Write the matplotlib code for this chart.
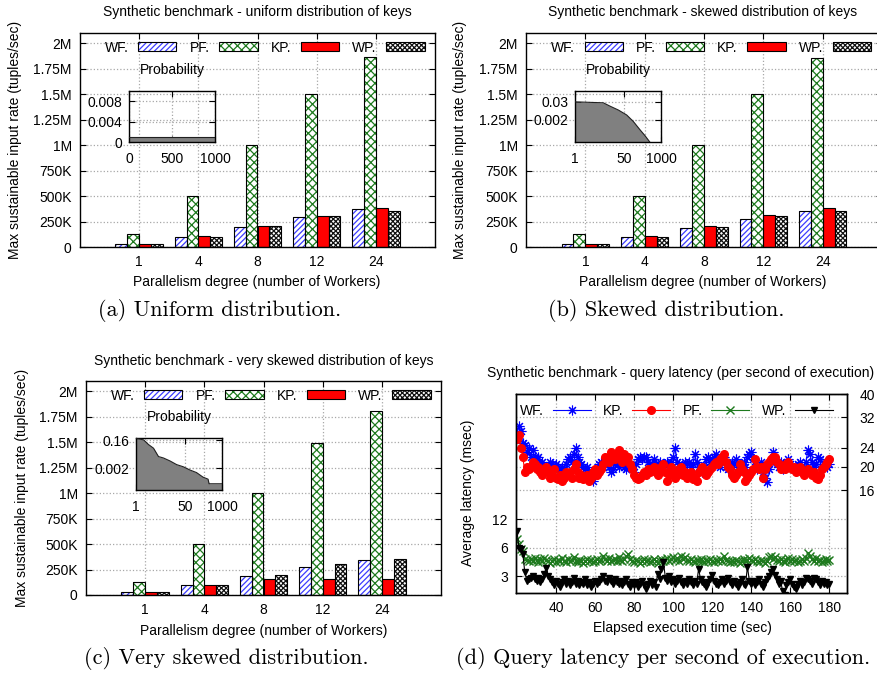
import numpy as np
import matplotlib
matplotlib.use("Agg")
import matplotlib.pyplot as plt
from matplotlib.ticker import NullLocator
from matplotlib.legend_handler import HandlerTuple

plt.rcParams['font.family'] = ['Liberation Sans', 'DejaVu Sans']
plt.rcParams['hatch.linewidth'] = 0.9

W, H = 877, 675

# ---- bar data (tuples/sec), groups = parallelism degree
groups = ['1', '4', '8', '12', '24']

uni_wf = [33e3, 100e3, 200e3, 295e3, 370e3]
uni_pf = [130e3, 500e3, 1.0e6, 1.5e6, 1.862e6]
uni_kp = [25e3, 105e3, 210e3, 309e3, 387e3]
uni_wp = [28e3, 100e3, 205e3, 302e3, 354e3]

skew_wf = [30e3, 100e3, 187e3, 279e3, 354e3]
skew_pf = [130e3, 500e3, 1.0e6, 1.5e6, 1.852e6]
skew_kp = [25e3, 105e3, 207e3, 310e3, 387e3]
skew_wp = [27e3, 100e3, 200e3, 300e3, 355e3]

vskew_wf = [26e3, 95e3, 183e3, 271e3, 342e3]
vskew_pf = [127e3, 502e3, 1.005e6, 1.494e6, 1.807e6]
vskew_kp = [26e3, 100e3, 160e3, 160e3, 160e3]
vskew_wp = [25e3, 98e3, 200e3, 300e3, 352e3]

ytick_vals = [0, 250e3, 500e3, 750e3, 1e6, 1.25e6, 1.5e6, 1.75e6, 2e6]
ytick_text = ['0', '250K', '500K', '750K', '1M', '1.25M', '1.5M', '1.75M', '2M']

# ---- key probability (insets)
uni_keys = [0, 1000]
uni_prob = [0.001, 0.001]

skew_keys = [1, 9.7, 16.6, 32.6, 63.6, 108, 185, 277, 415]
skew_prob = [0.03, 0.026, 0.0158, 0.0088, 0.0042, 0.0016, 0.00046, 0.00019, 0.00007]

vskew_keys = [1, 1.84, 2.74, 4.08, 6.08, 9.06, 15.4, 26.2, 44.6, 75.9, 129, 219, 326, 354, 1000]
vskew_prob = [0.212, 0.169, 0.0807, 0.0458, 0.0124, 0.0099, 0.0062, 0.0035, 0.0025,
              0.00151, 0.00101, 0.00049, 0.00036, 0.000175, 0.000175]

# ---- latency per second (msec), t = 20..180
t_sec = np.arange(20, 181)
lat_wf = [27.5, 29.5, 28, 25, 24.5, 23, 24, 22, 23.5, 22,
          21.5, 22, 20.5, 21, 20, 19.5, 20, 21, 20.5, 19.5,
          20.5, 20, 19, 20, 19.5, 20.5, 21.5, 22, 21, 22.5,
          24, 22, 21, 20.5, 20, 19.5, 20, 19, 18, 17.5,
          18.5, 19.5, 20.5, 21, 20, 20.5, 21.5, 20, 19, 19.5,
          20.5, 21, 20, 21.5, 21, 20, 19.5, 20.5, 20, 19.5,
          19, 20.5, 21.5, 22, 21.5, 22, 22, 21, 20, 20.5,
          21.5, 20.5, 20, 21, 19.5, 20, 20.5, 21, 20, 21,
          22, 24, 21, 20.5, 19.5, 20, 21, 20.5, 21, 20,
          20.5, 22.5, 21, 20, 19.5, 19, 20, 21.5, 22, 21,
          21.5, 22, 22.5, 21, 20, 21.5, 22, 20, 19.5, 20.5,
          21, 20.5, 21.5, 20, 19.5, 20.5, 21, 20, 22, 22.5,
          23, 21.5, 20, 19.5, 20, 21, 19, 18, 17.3, 19.5,
          21, 23, 21.5, 20.5, 20, 21, 19.5, 20, 20.5, 21.5,
          20.5, 20, 19.5, 20, 20.5, 21, 19.5, 20, 21, 23.5,
          22.5, 21, 20, 20.5, 22, 21.5, 20, 20.5, 21, 20,
          20.5]
lat_kp = [26, 27, 24, 22, 19, 20, 19.5, 20, 21, 20.5,
          19.5, 20, 19, 18.5, 19.5, 20, 19, 18, 18.5, 19.5,
          18, 17.8, 18.5, 17.5, 18, 19, 18.5, 19, 18, 19.5,
          20.5, 19, 18, 18.5, 17.8, 18, 18.5, 17.5, 18, 19,
          19.5, 18.5, 19, 19.5, 20.5, 22, 21.5, 21, 23, 22,
          21.5, 22.5, 23.5, 22, 21, 22.5, 21.5, 22, 20.5, 19.5,
          18.5, 18, 17.8, 18, 18.5, 19, 18.5, 19.5, 19, 19.5,
          20, 19, 18.5, 19.5, 20, 20.5, 19, 17.5, 18.5, 20,
          19, 18, 18.5, 19.5, 20, 18.5, 19, 18, 18.5, 19,
          17.8, 18, 17.5, 19, 19.5, 20, 19, 18.5, 19, 19.5,
          20, 20.5, 21, 20.5, 21.5, 22, 22.5, 21, 20, 19.5,
          18.5, 18, 18.5, 19, 20.5, 19.5, 19, 17.5, 18, 18.5,
          19, 19.5, 21.5, 20, 19.5, 20, 18, 19.5, 20.5, 21,
          21.5, 22, 22, 21, 20.5, 19.5, 20, 19.5, 20.5, 21,
          20, 19.5, 20, 19, 19.5, 20, 19, 18.5, 19, 19.5,
          19, 18.5, 19, 18, 17.8, 18.5, 19.5, 20, 20.5, 21,
          21.5]
lat_pf = [7.5, 6.5, 5.8, 5.5, 4.6, 4.5, 4.3, 4.6, 4.4, 4.7,
          4.5, 4.2, 4.6, 4.4, 4.7, 4.5, 4.3, 4.1, 4.4, 4.6,
          4.2, 4.5, 4.3, 4.7, 4.4, 4.2, 4.6, 4.3, 4.5, 4.8,
          4.4, 4.2, 4.5, 4.3, 4.1, 4.4, 4.6, 4.3, 4.5, 4.2,
          4.4, 4.6, 4.3, 4.5, 4.9, 4.6, 4.4, 4.7, 4.3, 4.5,
          4.6, 4.4, 4.8, 4.5, 4.3, 4.6, 4.9, 5.1, 4.6, 4.4,
          4.2, 4.5, 4.3, 4.1, 4.4, 4.6, 4.3, 4.5, 4.2, 4.4,
          4.6, 4.3, 4.1, 4.4, 4.6, 4.3, 4.5, 4.7, 4.4, 4.6,
          4.8, 4.5, 4.7, 4.4, 4.9, 4.6, 4.8, 4.5, 4.3, 4.6,
          4.4, 4.2, 4.5, 4.3, 4.6, 4.4, 4.2, 4.5, 4.3, 4.6,
          4.4, 4.2, 4.5, 4.3, 4.6, 4.4, 4.9, 4.5, 4.3, 4.2,
          4.4, 4.2, 4.5, 4.3, 4.1, 4.4, 4.6, 4.3, 4.5, 4.7,
          4.5, 4.3, 4.6, 4.4, 4.2, 4.5, 4.3, 4.1, 4.4, 4.8,
          4.9, 4.6, 4.8, 4.5, 4.3, 4.6, 4.4, 4.2, 4.5, 4.7,
          4.4, 4.6, 4.3, 4.5, 4.2, 4.4, 4.6, 4.3, 4.7, 5.3,
          4.9, 4.6, 4.4, 4.7, 4.3, 4.5, 4.2, 4.4, 4.6, 4.3,
          4.5]
lat_wp = [9, 6, 5.8, 5.2, 3.3, 2.7, 2.8, 2.9, 3.0, 2.8,
          2.7, 2.9, 2.6, 2.8, 3.2, 3.7, 3.0, 2.8, 2.6, 2.4,
          2.7, 2.5, 2.3, 2.6, 2.8, 2.5, 2.7, 2.4, 2.6, 2.9,
          2.5, 2.7, 2.4, 2.6, 2.5, 2.8, 2.4, 2.6, 2.3, 2.5,
          2.7, 2.5, 2.6, 2.8, 3.0, 2.7, 2.6, 2.9, 2.7, 2.5,
          2.8, 2.6, 2.5, 2.7, 2.4, 2.6, 2.8, 2.5, 2.3, 2.6,
          2.4, 2.6, 2.3, 2.5, 2.7, 2.4, 2.2, 2.5, 2.7, 2.4,
          2.6, 2.3, 3.2, 2.8, 3.6, 4.2, 2.9, 2.7, 3.0, 2.6,
          2.8, 2.5, 2.7, 2.9, 2.6, 2.4, 2.7, 2.5, 2.8, 2.6,
          2.4, 2.7, 2.5, 3.6, 2.8, 2.6, 2.5, 2.3, 2.6, 2.8,
          3.1, 2.7, 2.5, 2.4, 2.6, 2.8, 2.5, 2.7, 2.9, 2.6,
          2.4, 2.7, 2.5, 2.3, 2.6, 2.8, 2.5, 2.4, 3.8, 2.7,
          2.5, 2.7, 2.4, 2.6, 2.8, 2.5, 2.3, 2.6, 2.8, 3.0,
          3.3, 3.6, 3.1, 2.8, 2.5, 2.7, 2.1, 1.9, 2.4, 2.6,
          2.8, 2.5, 2.3, 2.2, 2.5, 2.7, 2.4, 2.6, 2.9, 2.8,
          2.7, 2.5, 2.9, 2.8, 2.6, 2.4, 2.7, 2.5, 2.6, 2.4,
          2.5]

GRID = dict(color='#a8a8a8', linestyle=':', linewidth=0.9)
TICK = 10
TITLE = 10
LABEL = 10
CAPTION = 16


def px_rect(x0, y0, x1, y1):
    return [x0 / W, 1 - y1 / H, (x1 - x0) / W, (y1 - y0) / H]


def ftext(fig, x, y, s, **kw):
    fig.text(x / W, 1 - y / H, s, ha='center', va='center', **kw)


def style_box(ax):
    for sp in ax.spines.values():
        sp.set_linewidth(1.0)
    ax.tick_params(direction='in', length=4, width=0.8, labelsize=TICK,
                   top=True, right=True)


def bar_panel(fig, rect, wf, pf, kp, wp):
    ax = fig.add_axes(rect)
    x = np.arange(len(groups))
    series = [(wf, 'WF.', 'white', '#3c3cff', '//////'),
              (pf, 'PF.', 'white', '#1e7a1e', 'xxxx'),
              (kp, 'KP.', '#ff0000', '#ff0000', None),
              (wp, 'WP.', 'white', '#111111', 'xxxxxxx')]
    handles, names = [], []
    for i, (vals, name, face, hc, hatch) in enumerate(series):
        pos = x + (i - 1.5) * 0.2
        b1 = ax.bar(pos, vals, 0.2, color=face, edgecolor=hc, hatch=hatch,
                    linewidth=0, zorder=2)
        b2 = ax.bar(pos, vals, 0.2, fill=False, edgecolor='black',
                    linewidth=0.8, zorder=3)
        handles.append((b1.patches[0], b2.patches[0]))
        names.append(name)
    ax.set_xlim(-1, 5)
    ax.set_ylim(0, 2.1e6)
    ax.set_xticks(x)
    ax.set_xticklabels(groups)
    ax.set_yticks(ytick_vals)
    ax.set_yticklabels(ytick_text)
    ax.set_axisbelow(True)
    ax.grid(True, **GRID)
    style_box(ax)
    ax.tick_params(axis='x', pad=6)
    ax.tick_params(axis='y', pad=6)
    ax.legend(handles, names, handler_map={tuple: HandlerTuple(ndivide=1, pad=0)},
              loc='upper center', bbox_to_anchor=(0.52, 1.0), ncol=4,
              frameon=False, markerfirst=False, fontsize=TICK,
              handlelength=2.75, handleheight=0.6, handletextpad=0.7,
              columnspacing=0.95, borderaxespad=0.15)
    return ax


def inset(fig, rect, keys, prob, logscale, ylim, yt, ytl, xt, xtl):
    ax = fig.add_axes(rect)
    ax.patch.set_alpha(0)
    if logscale:
        ax.set_xscale('log')
        ax.set_yscale('log')
        base = 1e-9
    else:
        base = 0
    ax.fill_between(keys, prob, base, color='#808080', linewidth=0, zorder=2)
    ax.plot(keys, prob, color='#202020', linewidth=0.8, zorder=3)
    ax.set_xlim(1 if logscale else 0, 1000)
    ax.set_ylim(*ylim)
    ax.xaxis.set_minor_locator(NullLocator())
    ax.yaxis.set_minor_locator(NullLocator())
    ax.set_xticks(xt)
    ax.set_xticklabels(xtl)
    ax.set_yticks(yt)
    ax.set_yticklabels(ytl)
    ax.grid(True, **GRID)
    style_box(ax)
    ax.tick_params(axis='x', pad=7)
    ax.tick_params(axis='y', pad=5)
    return ax


fig = plt.figure(figsize=(W / 100, H / 100), dpi=100)

# (a) uniform
bar_panel(fig, px_rect(80, 33, 435, 247), uni_wf, uni_pf, uni_kp, uni_wp)
inset(fig, px_rect(129, 91, 215, 142), uni_keys, uni_prob, False, (0, 0.01),
      [0, 0.004, 0.008], ['0', '0.004', '0.008'], [0, 500, 1000], ['0', '500', '1000'])
ftext(fig, 172, 70, 'Probability', fontsize=TICK)
ftext(fig, 257, 12, 'Synthetic benchmark - uniform distribution of keys', fontsize=TITLE)
ftext(fig, 15, 140, 'Max sustainable input rate (tuples/sec)', fontsize=LABEL, rotation=90)
ftext(fig, 257, 282, 'Parallelism degree (number of Workers)', fontsize=LABEL)
ftext(fig, 220, 311, '(a) Uniform distribution.', fontsize=CAPTION, family='cmr10')

# (b) skewed
bar_panel(fig, px_rect(526, 33, 882, 247), skew_wf, skew_pf, skew_kp, skew_wp)
inset(fig, px_rect(575, 91, 661, 142), skew_keys, skew_prob, True, (7.4e-5, 0.152),
      [0.002, 0.03], ['0.002', '0.03'], [1, 50, 1000], ['1', '50', '1000'])
ftext(fig, 618, 70, 'Probability', fontsize=TICK)
ftext(fig, 703, 12, 'Synthetic benchmark - skewed distribution of keys', fontsize=TITLE)
ftext(fig, 460, 140, 'Max sustainable input rate (tuples/sec)', fontsize=LABEL, rotation=90)
ftext(fig, 703, 282, 'Parallelism degree (number of Workers)', fontsize=LABEL)
ftext(fig, 666, 311, '(b) Skewed distribution.', fontsize=CAPTION, family='cmr10')

# (c) very skewed
bar_panel(fig, px_rect(86, 381, 441, 595), vskew_wf, vskew_pf, vskew_kp, vskew_wp)
inset(fig, px_rect(136, 438, 222, 490), vskew_keys, vskew_prob, True, (6.6e-5, 0.226),
      [0.002, 0.16], ['0.002', '0.16'], [1, 50, 1000], ['1', '50', '1000'])
ftext(fig, 179, 417, 'Probability', fontsize=TICK)
ftext(fig, 264, 361, 'Synthetic benchmark - very skewed distribution of keys', fontsize=TITLE)
ftext(fig, 22, 488, 'Max sustainable input rate (tuples/sec)', fontsize=LABEL, rotation=90)
ftext(fig, 264, 631, 'Parallelism degree (number of Workers)', fontsize=LABEL)
ftext(fig, 226, 659, '(c) Very skewed distribution.', fontsize=CAPTION, family='cmr10')

# (d) latency, two log scales
ax1 = fig.add_axes(px_rect(516, 394, 847, 593))
ax2 = ax1.twinx()
l_pf, = ax1.plot(t_sec, lat_pf, color='#1e7a1e', marker='x', markersize=5.5,
                 linewidth=0.8, markeredgewidth=1.0)
l_wp, = ax1.plot(t_sec, lat_wp, color='black', marker='v', markersize=4,
                 linewidth=0.8)
l_wf, = ax2.plot(t_sec, lat_wf, color='#0000ff', marker=(8, 2, 0), markersize=7,
                 linewidth=0.8, markeredgewidth=0.8)
l_kp, = ax2.plot(t_sec, lat_kp, color='#ff0000', marker='o', markersize=5.5,
                 linewidth=0.8)
for a in (ax1, ax2):
    a.set_yscale('log')
    a.yaxis.set_minor_locator(NullLocator())
    a.set_xlim(19.5, 189)
ax1.set_ylim(2, 250)
ax2.set_ylim(6, 40)
ax1.set_yticks([3, 6, 12])
ax1.set_yticklabels(['3', '6', '12'])
ax2.set_yticks([16, 20, 24, 32, 40])
ax2.set_yticklabels(['16', '20', '24', '32', '40'])
ax1.set_xticks([40, 60, 80, 100, 120, 140, 160, 180])
ax1.grid(True, **GRID)
ax2.grid(True, axis='y', **GRID)
style_box(ax1)
ax1.tick_params(right=False, pad=6)
for sp in ax2.spines.values():
    sp.set_linewidth(1.0)
ax2.tick_params(direction='in', length=4, width=0.8, labelsize=TICK, pad=9)
ax2.legend([l_wf, l_kp, l_pf, l_wp], ['WF.', 'KP.', 'PF.', 'WP.'],
           loc='upper center', bbox_to_anchor=(0.485, 1.0), ncol=4, frameon=False,
           markerfirst=False, numpoints=1, fontsize=TICK, handlelength=2.75,
           handletextpad=0.6, columnspacing=0.9, borderaxespad=0.3)
ftext(fig, 681, 373, 'Synthetic benchmark - query latency (per second of execution)', fontsize=TITLE)
ftext(fig, 468, 493, 'Average latency (msec)', fontsize=LABEL, rotation=90)
ftext(fig, 682, 628, 'Elapsed execution time (sec)', fontsize=LABEL)
ftext(fig, 663, 659, '(d) Query latency per second of execution.', fontsize=CAPTION, family='cmr10')

fig.savefig('out.png', dpi=100)
